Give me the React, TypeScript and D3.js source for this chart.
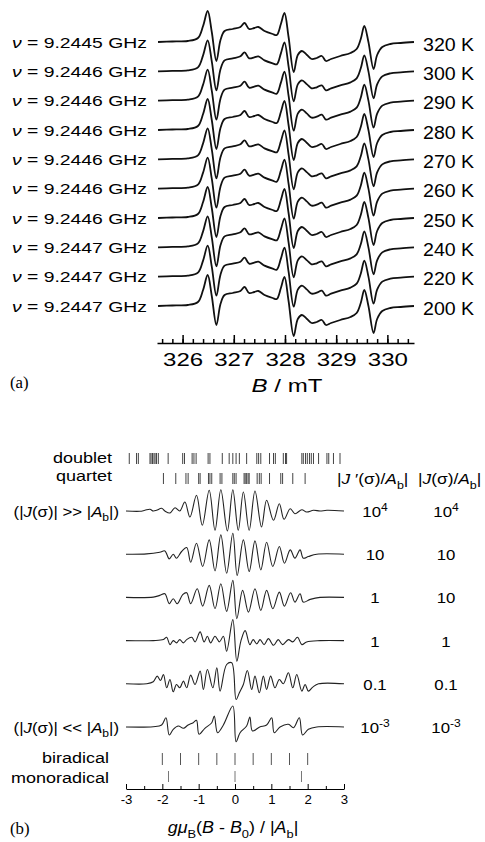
import React, { useEffect, useRef } from 'react';
import * as d3 from 'd3';

// ---------- panel (a): temperature series ----------
const temps = ['320 K', '300 K', '290 K', '280 K', '270 K', '260 K', '250 K', '240 K', '220 K', '200 K'];
const freqs = ['9.2445', '9.2446', '9.2446', '9.2446', '9.2446', '9.2446', '9.2446', '9.2447', '9.2447', '9.2447'];
const fieldTicks = [326, 327, 328, 329, 330];

// [B / mT, signal] (the others look the same)
const profileA: [number, number][] = [
  [325.52, 0], [325.8, 0.5], [326.1, 1], [326.3, 4], [326.4, 16], [326.49, 31], [326.57, 10],
  [326.66, -19], [326.74, 2], [326.82, 11], [326.98, 13], [327.13, 15], [327.21, 19], [327.3, 13],
  [327.4, 14], [327.48, 15], [327.6, 11], [327.76, 8], [327.84, 7], [327.92, 18], [327.99, 29],
  [328.07, 5], [328.17, -30], [328.25, -13], [328.33, -9], [328.43, -13], [328.52, -17], [328.62, -16],
  [328.72, -14], [328.8, -19], [328.9, -17], [329.08, -14], [329.28, -11], [329.4, -7], [329.48, 3],
  [329.55, 16], [329.63, 0], [329.73, -27], [329.8, -13], [329.9, -5], [330.06, -2], [330.26, -1], [330.52, 0],
];

// ---------- panel (b): simulations ----------
const doublet = [
  -2.91, -2.71, -2.66, -2.34, -2.31, -2.27, -2.23, -2.2, -2.16, -2.11, -1.84, -1.44, -1.39, -1.18, -1.13,
  -1.07, -0.74, -0.69, -0.35, -0.16, -0.06, 0.03, 0.12, 0.32, 0.6, 0.65, 0.71, 0.95, 1.06, 1.11, 1.33,
  1.39, 1.42, 1.84, 1.88, 1.94, 1.99, 2.05, 2.1, 2.16, 2.3, 2.53, 2.58, 2.71, 2.89,
];
const quartet = [
  -1.97, -1.63, -1.35, -1.29, -1.0, -0.96, -0.73, -0.69, -0.64, -0.41, -0.36, -0.06, -0.02, 0.03,
  0.25, 0.28, 0.32, 0.36, 0.39, 0.61, 0.67, 0.72, 0.95, 1.26, 1.31, 1.59, 1.93,
];
const biradical = [-2, -1.5, -1, -0.5, 0, 0.5, 1, 1.5, 2];
const monoradical = [-1.83, 0, 1.83];

const jPrimeRatio = ['10^4', '10', '1', '1', '0.1', '10^-3'];
const jRatio = ['10^4', '10', '10', '1', '0.1', '10^-3'];

const specJ4: [number, number][] = [
  [-3, 0], [-2.62, -0.3], [-2.48, 0.7], [-2.34, 1.7], [-2.25, 0], [-2.16, 0.7], [-2.02, 2.7], [-1.93, 0],
  [-1.79, -2], [-1.65, 3.3], [-1.52, 0], [-1.38, 9], [-1.24, -6], [-1.06, 15.7], [-0.9, -14.3], [-0.71, 20.7],
  [-0.55, -19.3], [-0.39, 21.3], [-0.21, -20], [-0.06, 21.3], [0.09, -19.3], [0.23, 19], [0.39, -19.3],
  [0.55, 20], [0.73, -16], [0.87, 10.7], [1.06, -9.3], [1.22, 7.3], [1.35, -8.3], [1.52, 2.3], [1.65, -2.7],
  [1.84, 1.3], [1.97, -1], [2.16, 0.7], [2.34, 0], [2.53, 0.7], [3, 0],
];
const specJ10: [number, number][] = [
  [-3, 0], [-2.43, 0.3], [-2.07, 2], [-1.93, 3.3], [-1.81, -4.7], [-1.7, 0], [-1.61, -4], [-1.47, 2.7],
  [-1.33, 6.7], [-1.22, -8], [-1.06, 11], [-0.89, -12.3], [-0.71, 14.3], [-0.55, -16.7], [-0.39, 19.3],
  [-0.23, -19], [-0.06, 21], [0.06, -21.3], [0.23, 14.3], [0.39, -17.3], [0.55, 13.3], [0.71, -15.7],
  [0.87, 12], [1.04, -12.3], [1.22, 7.7], [1.36, -9], [1.52, 4.3], [1.65, -4], [1.79, 4.3], [1.88, -4],
  [2.02, -2.3], [2.25, 0], [3, 0],
];
const specJ1a: [number, number][] = [
  [-3, 0], [-2.25, 0.3], [-2.07, 2], [-1.93, 3.7], [-1.81, -6.3], [-1.7, -1.3], [-1.59, -6.3], [-1.44, 2.7],
  [-1.33, 4.7], [-1.22, -6.3], [-1.04, 8.7], [-0.89, -8.7], [-0.71, 12], [-0.55, -11.3], [-0.39, 13.7],
  [-0.23, -14], [-0.06, 17], [0.05, -21.3], [0.21, 7], [0.37, -14.7], [0.55, 8.7], [0.71, -13], [0.87, 7],
  [1.04, -11.3], [1.22, 5.3], [1.36, -8.7], [1.53, 4.7], [1.65, -4.7], [1.79, 3.7], [1.88, -4.7],
  [2.07, -2], [2.34, 0], [3, 0],
];
const specJ1b: [number, number][] = [
  [-3, 0], [-2.25, 0], [-1.97, 1], [-1.88, 3.3], [-1.79, -4], [-1.7, 0], [-1.61, -2.3], [-1.52, 1],
  [-1.42, -2.3], [-1.33, 1], [-1.19, 3.3], [-1.1, -1.3], [-0.96, 8.7], [-0.85, -1.3], [-0.76, 4.3],
  [-0.67, -2.3], [-0.55, 4.3], [-0.43, -1.3], [-0.32, 4.3], [-0.23, -10.7], [-0.06, 21], [0.05, -20.7],
  [0.16, -0.7], [0.28, 10], [0.41, -4], [0.5, 1], [0.6, -3.3], [0.69, 1], [0.8, -4], [0.92, 2],
  [1.06, -4.7], [1.19, 1], [1.31, -4], [1.47, 1], [1.59, -1.3], [1.72, 3.3], [1.84, -4], [1.97, -1.3],
  [2.34, 0], [3, 0],
];
const specJ01: [number, number][] = [
  [-3, 0], [-2.43, 0], [-2.25, 2], [-2.14, 7.7], [-2.05, 3.3], [-1.97, 9.3], [-1.88, -4], [-1.79, 4.3],
  [-1.7, -8], [-1.61, -0.7], [-1.52, -4], [-1.42, 2.7], [-1.33, -4], [-1.22, 8.7], [-1.1, -0.7],
  [-0.96, 12.7], [-0.87, -5.7], [-0.76, 14.3], [-0.61, -4], [-0.5, 16], [-0.41, -7.3], [-0.23, 19.3],
  [-0.09, 21], [0.03, -15.7], [0.12, -9], [0.23, -0.7], [0.34, 13.3], [0.46, -5.7], [0.55, 7.7],
  [0.67, -9], [0.78, 7.7], [0.87, -5.7], [0.98, 7.7], [1.1, -4], [1.22, 4.3], [1.33, 0], [1.47, 11],
  [1.59, -4], [1.7, 9.3], [1.84, -7.3], [1.93, -0.7], [2.02, -7.3], [2.14, -3.3], [2.3, 0], [3, 0],
];
const specJ1e3: [number, number][] = [
  [-3, 0], [-2.25, 0.3], [-2.02, 2], [-1.9, 9.3], [-1.81, -8], [-1.7, -2.3], [-1.56, 1], [-1.42, -1.3],
  [-1.29, 2], [-1.15, 4.3], [-1.06, 6.7], [-0.99, -7.3], [-0.83, -1.3], [-0.64, 4.3], [-0.57, 11],
  [-0.48, -5.7], [-0.32, 2], [-0.06, 21], [0.03, -14.7], [0.14, -5.7], [0.32, 1], [0.41, 10], [0.48, -4],
  [0.68, 0], [0.87, 2], [1.01, 9.3], [1.08, -5.7], [1.24, 0], [1.47, 2.7], [1.61, -0.7], [1.77, 9.3],
  [1.86, -8], [2.02, -2.3], [2.25, 0], [3, 0],
];
const spectraB = [specJ4, specJ10, specJ1a, specJ1b, specJ01, specJ1e3];

const SANS = '"Liberation Sans", Arial, Helvetica, sans-serif';
const SERIF = '"Liberation Serif", "Times New Roman", serif';

type Seg = [string, string?];

// text with italic / subscript / superscript runs, stretched horizontally like the original scan
function rich(parent: any, x: number, y: number, segs: Seg[], size: number, anchor = 'start', sx = 1.2, family = SANS) {
  const t = parent.append('text')
    .attr('transform', `translate(${x},${y}) scale(${sx},1)`)
    .attr('text-anchor', anchor)
    .attr('font-size', size)
    .attr('font-family', family)
    .attr('fill', '#000');
  let shift = 0;
  segs.forEach(([s, k = '']) => {
    const target = k.includes('b') ? size * 0.3 : k.includes('p') ? -size * 0.42 : 0;
    const ts = t.append('tspan').text(s).attr('dy', target - shift);
    shift = target;
    if (k.includes('i')) ts.attr('font-style', 'italic');
    if (k.includes('b') || k.includes('p')) ts.attr('font-size', size * 0.72);
  });
  return t;
}

function powerLabel(v: string): Seg[] {
  const [base, exp] = v.split('^');
  return exp ? [[base], [exp, 'p']] : [[base]];
}

const App = () => {
  const svgRef = useRef<SVGSVGElement>(null);

  useEffect(() => {
    document.body.style.margin = '0';
    const svg = d3.select(svgRef.current);
    svg.selectAll('*').remove();

    // ----- panel (a) -----
    const xA = d3.scaleLinear().domain([325.5, 330.52]).range([157, 414]);
    const rowA = d3.scalePoint<string>().domain(temps).range([42, 306]);
    const ampA = d3.scaleLinear().domain([-40, 40]).range([40, -40]);

    const gA = svg.append('g');
    temps.forEach((t, i) => {
      const line = d3.line<[number, number]>()
        .x(d => xA(d[0]))
        .y(d => rowA(t)! + ampA(d[1]))
        .curve(d3.curveCatmullRom.alpha(0.5));
      gA.append('path')
        .attr('d', line(profileA))
        .attr('fill', 'none')
        .attr('stroke', '#111')
        .attr('stroke-width', 1.8)
        .attr('stroke-linejoin', 'round');

      rich(gA, 147, rowA(t)! + 5.5, [['ν', 'i'], [` = ${freqs[i]} GHz`]], 15.5, 'end', 1.25);
      rich(gA, 423, rowA(t)! + 8.5, [[t]], 17.5, 'start', 1.12);
    });

    const axA = gA.append('g')
      .attr('transform', 'translate(0,343)')
      .call(d3.axisBottom(xA).tickValues(fieldTicks).tickSize(-8).tickSizeOuter(0).tickPadding(10).tickFormat(d3.format('d')));
    axA.select('.domain').attr('stroke-width', 1.6);
    axA.selectAll('line').attr('stroke-width', 1.5);
    axA.selectAll('text')
      .attr('font-size', 18.5)
      .attr('font-family', SANS)
      .attr('transform', 'scale(1.3,1)');
    gA.append('g')
      .attr('transform', 'translate(0,343)')
      .call(d3.axisBottom(xA).tickValues(xA.ticks(25)).tickSize(-4).tickFormat(() => ''))
      .call(g => g.select('.domain').remove())
      .selectAll('line').attr('stroke-width', 1.5);

    rich(gA, 287, 392, [['B', 'i'], [' / mT']], 18.5, 'middle', 1.3);
    rich(gA, 10, 388, [['(a)']], 16, 'start', 1.05, SERIF);

    // ----- panel (b) -----
    const xB = d3.scaleLinear().domain([-3, 3]).range([126, 344]);
    const rowB = d3.scalePoint<number>().domain(d3.range(spectraB.length)).range([511, 727]);
    const ampB = d3.scaleLinear().domain([-30, 30]).range([30, -30]);
    const gB = svg.append('g');

    const sticks = (pos: number[], y0: number, y1: number, color: string) => {
      gB.append('g').selectAll('line').data(pos).join('line')
        .attr('x1', d => xB(d)).attr('x2', d => xB(d))
        .attr('y1', y0).attr('y2', y1)
        .attr('stroke', color).attr('stroke-width', 1);
    };
    sticks(doublet, 453, 464, '#444');
    sticks(quartet, 473, 484, '#444');
    sticks(biradical, 753, 765, '#555');
    sticks(monoradical, 771, 782, '#777');

    rich(gB, 112, 463, [['doublet']], 15, 'end', 1.2);
    rich(gB, 112, 481, [['quartet']], 15, 'end', 1.2);
    rich(gB, 109, 763, [['biradical']], 15, 'end', 1.2);
    rich(gB, 109, 783, [['monoradical']], 15, 'end', 1.2);

    rich(gB, 337, 484, [['|'], ['J', 'i'], [' ′(σ)/'], ['A', 'i'], ['b', 'b'], ['|']], 15.5, 'start', 1.12);
    rich(gB, 418, 484, [['|'], ['J', 'i'], ['(σ)/'], ['A', 'i'], ['b', 'b'], ['|']], 15.5, 'start', 1.12);

    spectraB.forEach((spec, i) => {
      const line = d3.line<[number, number]>()
        .x(d => xB(d[0]))
        .y(d => rowB(i)! + ampB(d[1]))
        .curve(d3.curveCatmullRom.alpha(0.5));
      gB.append('path')
        .attr('d', line(spec))
        .attr('fill', 'none')
        .attr('stroke', '#222')
        .attr('stroke-width', 1.1);
      rich(gB, 375, rowB(i)! + 6, powerLabel(jPrimeRatio[i]), 15, 'middle', 1.12);
      rich(gB, 446, rowB(i)! + 6, powerLabel(jRatio[i]), 15, 'middle', 1.12);
    });

    rich(gB, 119, rowB(0)! + 5.5, [['(|'], ['J', 'i'], ['(σ)| >> |'], ['A', 'i'], ['b', 'b'], ['|)']], 15, 'end', 1.12);
    rich(gB, 119, rowB(5)! + 5.5, [['(|'], ['J', 'i'], ['(σ)| << |'], ['A', 'i'], ['b', 'b'], ['|)']], 15, 'end', 1.12);

    const axB = gB.append('g')
      .attr('transform', 'translate(0,789)')
      .call(d3.axisBottom(xB).tickValues(d3.range(-3, 4)).tickSize(-5).tickSizeOuter(0).tickPadding(6).tickFormat(d => String(d)));
    axB.selectAll('text').attr('font-size', 12).attr('font-family', SANS).attr('transform', 'scale(1.1,1)');
    gB.append('g')
      .attr('transform', 'translate(0,789)')
      .call(d3.axisBottom(xB).tickValues(d3.range(-2.5, 3, 1)).tickSize(-3).tickFormat(() => ''))
      .call(g => g.select('.domain').remove());

    rich(gB, 233, 833, [['g', 'i'], ['μ', 'i'], ['B', 'b'], ['('], ['B', 'i'], [' - '], ['B', 'i'], ['0', 'b'], [') / |'], ['A', 'i'], ['b', 'b'], ['|']], 16, 'middle', 1.12);
    rich(gB, 10, 834, [['(b)']], 16, 'start', 1.05, SERIF);
  }, []);

  return <svg ref={svgRef} width={485} height={842} style={{ display: 'block', background: '#fff' }} />;
};

export default App;
